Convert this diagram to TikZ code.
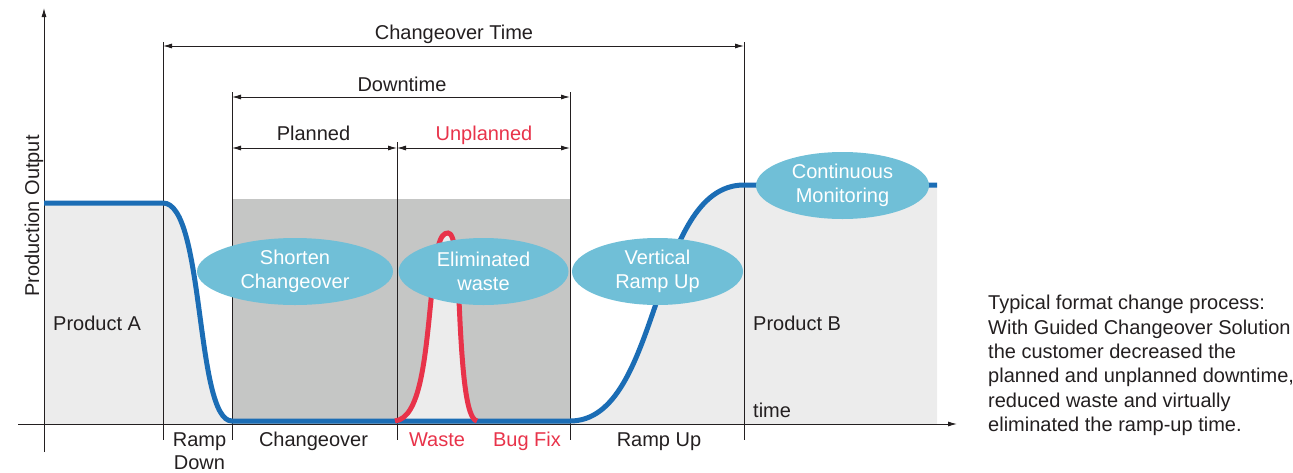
\documentclass[tikz,border=0pt]{standalone}
\usepackage{fontspec}
\setmainfont{Liberation Sans}
\usetikzlibrary{arrows.meta,shapes.geometric}
\definecolor{txt}{HTML}{231F20}
\definecolor{bl}{HTML}{1B6DB5}
\definecolor{rd}{HTML}{E8334A}
\definecolor{lg}{HTML}{ECECEC}
\definecolor{dg}{HTML}{C5C6C5}
\definecolor{cy}{HTML}{70BFD7}
\begin{document}
\begin{tikzpicture}[x=1pt,y=-1pt,
  lbl/.style={font=\fontsize{20}{24.4}\selectfont, text=txt, inner sep=0pt, anchor=base},
  lblw/.style={lbl, anchor=base west},
  rlbl/.style={lbl, text=rd},
  bubble/.style={ellipse, fill=cy, text=white, inner sep=0pt, minimum width=#1,
    minimum height=67pt, align=center, font=\fontsize{20}{24}\selectfont},
  guide/.style={line width=0.9pt, draw=txt},
  tipd/.style={line width=0.9pt, draw=txt, -{Latex[length=9pt,width=5pt]}},
  dim/.style={line width=0.9pt, draw=txt, {Latex[length=9pt,width=5pt]}-{Latex[length=9pt,width=5pt]}},
  bluecurve/.style={line width=5pt, draw=bl},
  redcurve/.style={line width=5pt, draw=rd}]
\useasboundingbox (0,0) rectangle (1293,472);

% ---- coordinates
\coordinate (yb) at (44,452);  \coordinate (yt) at (44,8);
\coordinate (xl) at (18,424);  \coordinate (xr) at (957,424);
\coordinate (ta) at (163,42);  \coordinate (ba) at (163,440);
\coordinate (tb) at (232,92);  \coordinate (bb) at (232,440);
\coordinate (tc) at (397,142); \coordinate (bc) at (397,440);
\coordinate (td) at (570,92);  \coordinate (bd) at (570,440);
\coordinate (te) at (744,42);  \coordinate (be) at (744,440);
\coordinate (cl) at (163,46);  \coordinate (cr) at (744,46);
\coordinate (dl) at (232,97);  \coordinate (dr) at (570,97);
\coordinate (pl) at (232,148); \coordinate (pm) at (397,148); \coordinate (pr) at (570,148);

% ---- fills
\fill[lg] (44,424) -- (44,203) -- (163,203) .. controls (205,203) and (195,421) .. (232,421) -- (232,424) -- cycle;
\fill[lg] (570,424) -- (570,421) .. controls (662,421) and (650,185) .. (744,185) -- (937,185) -- (937,424) -- cycle;
\fill[dg] (232,199) rectangle (570,424);
\fill[lg] (395,421) .. controls (420,418) and (425,360) .. (431,300)
  .. controls (436,245) and (440,233) .. (448,233)
  .. controls (455,233) and (457,260) .. (459,300)
  .. controls (462,370) and (466,419) .. (477,421) -- cycle;

% ---- guides
\draw[guide] (ta) -- (ba);
\draw[guide] (tb) -- (bb);
\draw[guide] (tc) -- (bc);
\draw[guide] (td) -- (bd);
\draw[guide] (te) -- (be);
\draw[tipd] (yb) -- (yt);
\draw[tipd] (xl) -- (xr);
\draw[dim] (cl) -- (cr);
\draw[dim] (dl) -- (dr);
\draw[dim] (pl) -- (pm);
\draw[dim] (pm) -- (pr);

% ---- curves
\draw[bluecurve] (44,203) -- (163,203) .. controls (205,203) and (195,421) .. (232,421)
  -- (570,421) .. controls (662,421) and (650,185) .. (744,185) -- (937,185);
\draw[redcurve] (395,421) .. controls (420,418) and (425,360) .. (431,300)
  .. controls (436,245) and (440,233) .. (448,233)
  .. controls (455,233) and (457,260) .. (459,300)
  .. controls (462,370) and (466,419) .. (477,421);

% ---- bubbles
\node[bubble=196pt] (shorten) at (295,271.5) {Shorten\\Changeover};
\node[bubble=170pt] (elim) at (483.5,271.5) {Eliminated\\waste};
\node[bubble=171pt] (vert) at (657.5,271.5) {Vertical\\Ramp Up};
\node[bubble=173pt] (cont) at (842.5,185.5) {Continuous\\Monitoring};

% ---- labels
\node[lbl] (lct) at (454,39.5) {Changeover Time};
\node[lbl] (ldt) at (402,91.5) {Downtime};
\node[lbl] (lpl) at (313.5,140) {Planned};
\node[rlbl] (lup) at (484,140) {Unplanned};
\node[lbl] (lr1) at (199.5,446) {Ramp};
\node[lbl] (lr2) at (199.5,469) {Down};
\node[lbl] (lco) at (313.5,446) {Changeover};
\node[rlbl] (lwa) at (437,446) {Waste};
\node[rlbl] (lbf) at (527,446) {Bug Fix};
\node[lbl] (lru) at (659,446) {Ramp Up};
\node[lblw] (lpa) at (53,330) {Product A};
\node[lblw] (lpb) at (753,330) {Product B};
\node[lblw] (ltm) at (753,417) {time};
\node[lbl, rotate=90] (lpo) at (39,216) {Production Output};
\node[lbl, anchor=north west, align=left] (para) at (988,295)
  {Typical format change process:\\With Guided Changeover Solution\\the customer decreased the\\planned and unplanned downtime,\\reduced waste and virtually\\eliminated the ramp-up time.};
\end{tikzpicture}
\end{document}
